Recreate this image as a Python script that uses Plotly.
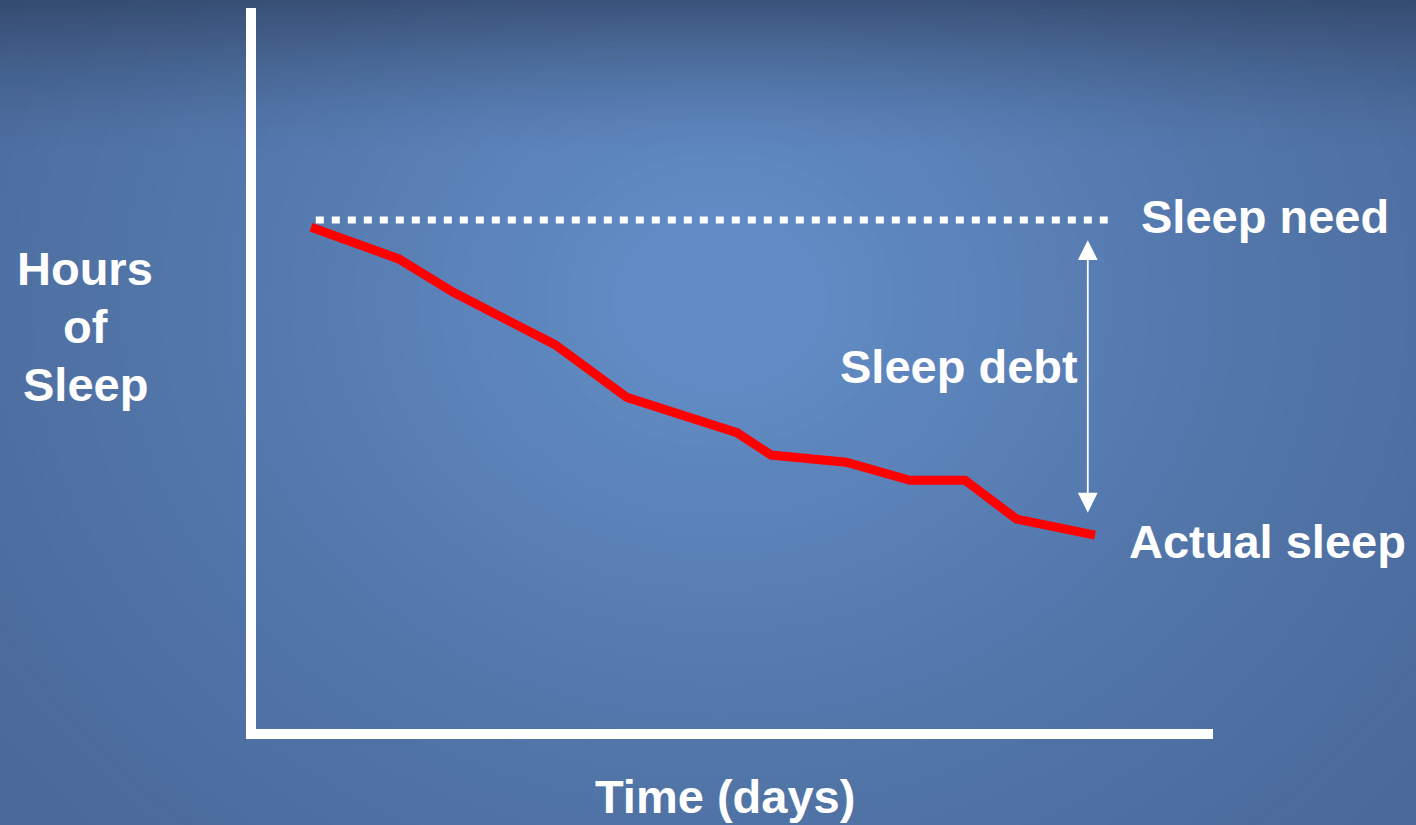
import plotly.graph_objects as go

# ---- data ----
days_actual = [0.69, 1.79, 2.47, 3.31, 3.75, 4.65, 6.03, 6.46, 7.40, 8.20, 8.89, 9.54, 10.52]
hours_actual = [6.96, 6.52, 6.06, 5.60, 5.33, 4.60, 4.11, 3.80, 3.70, 3.45, 3.45, 2.91, 2.69]
days_need = [0.75, 10.68]
hours_need = [7.06, 7.06]
debt_day = 10.43
debt_top = 6.78
debt_bottom = 2.98

W, H = 1416, 825
FONT = "Liberation Sans, Arial, sans-serif"

def mix(c1, c2, t):
    return "rgb(%d,%d,%d)" % tuple(round(a + (b - a) * t) for a, b in zip(c1, c2))

edge = (74, 106, 155)
center = (98, 140, 197)
shapes = []
# radial gradient background
N = 40
cx, cy = 720 / W, 1 - 300 / H
for i in range(N):
    t = i / (N - 1)
    rx = (1.05 - 0.95 * t) * 0.62
    ry = rx * W / H
    shapes.append(dict(type="circle", xref="paper", yref="paper",
                       x0=cx - rx, x1=cx + rx, y0=cy - ry * 0.85, y1=cy + ry * 0.85,
                       fillcolor=mix(edge, center, t ** 1.3), line=dict(width=0),
                       layer="below"))
# top darkening band: non-overlapping strips
S, BAND = 3, 150
for k in range(BAND // S):
    y0 = k * S
    ym = y0 + S / 2
    a = 0.5 * (1 - ym / BAND) ** 1.5
    shapes.append(dict(type="rect", xref="paper", yref="paper",
                       x0=0, x1=1, y0=1 - (y0 + S) / H, y1=1 - y0 / H,
                       fillcolor="rgba(30,42,64,%.4f)" % a,
                       line=dict(width=0), layer="below"))

fig = go.Figure()
fig.add_trace(go.Scatter(x=days_need, y=hours_need, mode="lines",
                         line=dict(color="white", width=7, dash="8px,8px"),
                         hoverinfo="skip", showlegend=False))
fig.add_trace(go.Scatter(x=days_actual, y=hours_actual, mode="lines",
                         line=dict(color="#ff0000", width=9),
                         hoverinfo="skip", showlegend=False))

ann = []
# double arrow for sleep debt
ann.append(dict(x=debt_day, y=debt_top, ax=debt_day, ay=debt_bottom,
                xref="x", yref="y", axref="x", ayref="y", text="",
                showarrow=True, arrowhead=2, startarrowhead=2, arrowside="end+start",
                arrowsize=2.2, startarrowsize=2.2, arrowwidth=1.8, arrowcolor="white"))

def txt(s, x, y, xa="left"):
    return dict(text="<b>%s</b>" % s, x=x / W, y=1 - y / H, xref="paper", yref="paper",
                xanchor=xa, yanchor="middle", showarrow=False,
                font=dict(family=FONT, size=47, color="white"))

ann.append(txt("Sleep need", 1139, 216))
ann.append(txt("Actual sleep", 1127, 541))
ann.append(txt("Sleep debt", 1080, 366, "right"))
ann.append(txt("Hours", 85, 268, "center"))
ann.append(txt("of", 85, 326, "center"))
ann.append(txt("Sleep", 85, 384, "center"))
ann.append(txt("Time (days)", 725, 796, "center"))

fig.update_layout(
    width=W, height=H,
    margin=dict(l=0, r=0, t=0, b=0),
    paper_bgcolor="rgb(%d,%d,%d)" % edge,
    plot_bgcolor="rgba(0,0,0,0)",
    shapes=shapes,
    annotations=ann,
    xaxis=dict(domain=[256 / W, 1213 / W], range=[0, 12], showgrid=False, zeroline=False,
               showticklabels=False, ticks="", showline=True, linewidth=10, linecolor="white",
               fixedrange=True),
    yaxis=dict(domain=[1 - 729 / H, 1 - 8 / H], range=[0, 10], showgrid=False, zeroline=False,
               showticklabels=False, ticks="", showline=True, linewidth=10, linecolor="white",
               fixedrange=True),
)

fig.write_html("out.html", config={"displayModeBar": False})
